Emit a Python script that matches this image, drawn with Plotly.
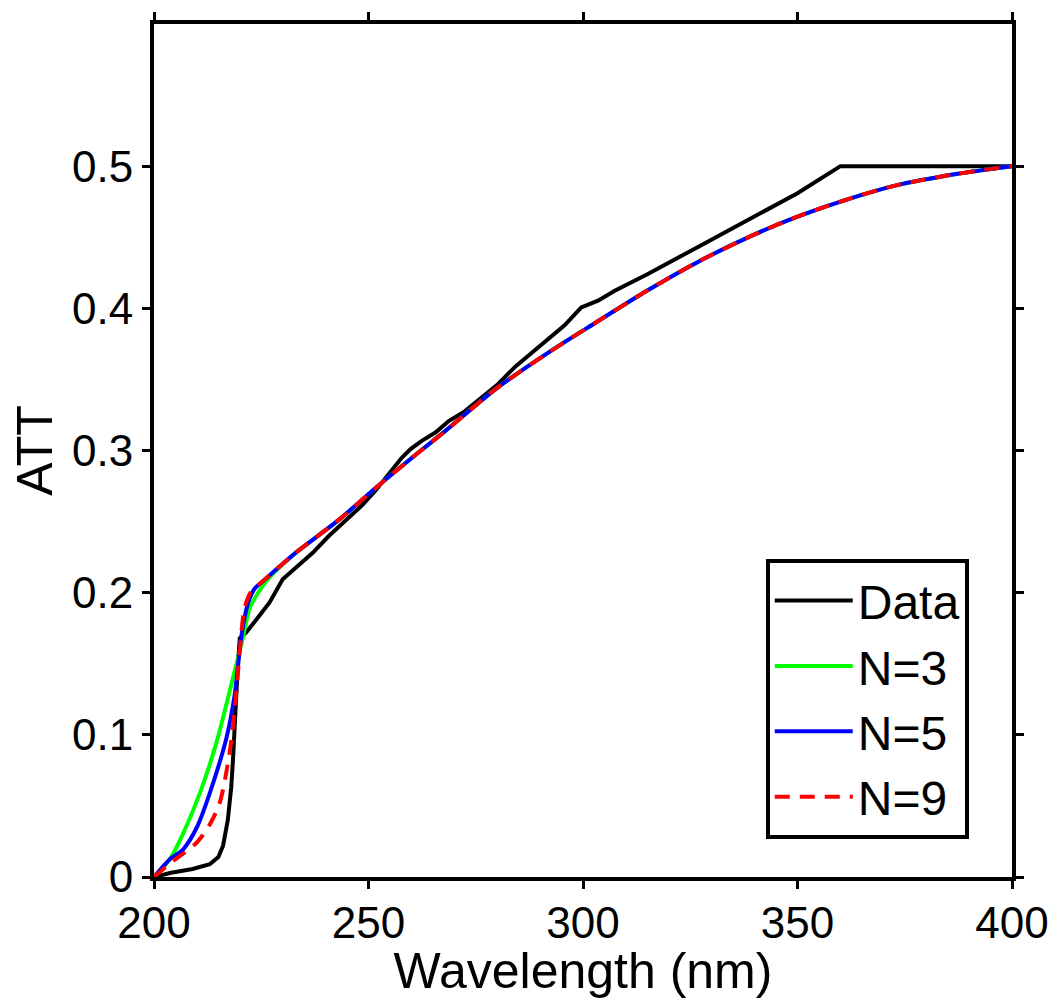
import plotly.graph_objects as go

# ---- data ----
data_x = [200, 204, 209, 213, 215, 216.1, 217.2, 218, 218.4, 219, 219.6, 220, 221.5, 224.6,
          226.9, 230, 233.9, 237, 240.8, 244.7, 248.6, 251.7, 255.5, 257.8, 259.8, 262.5,
          265.6, 268.7, 272.5, 280.3, 284.2, 288, 291.9, 295.7, 299.6, 303.5, 307.4, 315,
          326.7, 340, 350, 360, 400]
data_y = [0, 0.003, 0.0056, 0.009, 0.014, 0.022, 0.040, 0.063, 0.082, 0.121, 0.152, 0.168,
          0.172, 0.184, 0.193, 0.2095, 0.220, 0.228, 0.240, 0.251, 0.2617, 0.272, 0.286,
          0.295, 0.301, 0.307, 0.3126, 0.3207, 0.3277, 0.347, 0.359, 0.3685, 0.378, 0.388,
          0.4007, 0.4054, 0.4124, 0.424, 0.443, 0.465, 0.481, 0.5, 0.5]

# common smooth tail shared by the fits
tail_x = [233, 243, 252, 261, 268, 280, 292, 303, 315, 327, 340, 350, 362, 373, 387, 400]
tail_y = [0.228, 0.251, 0.2745, 0.297, 0.314, 0.344, 0.369, 0.390, 0.4125, 0.433, 0.452,
          0.4645, 0.477, 0.4865, 0.4945, 0.5]

n3_x = [200, 203.7, 207, 210.7, 214.5, 218.4, 220.7, 222.3, 224.5, 227, 230]
n3_y = [0, 0.0125, 0.032, 0.059, 0.094, 0.140, 0.168, 0.189, 0.201, 0.211, 0.220]

n5_x = [200, 203.7, 206.8, 210, 213, 216.9, 218.8, 220.3, 221.5, 222.3, 223.5, 225, 228]
n5_y = [0, 0.0125, 0.0195, 0.035, 0.059, 0.098, 0.128, 0.168, 0.188, 0.196, 0.203, 0.207, 0.215]

n9_x = [200, 204.5, 209.9, 213, 215.3, 217.6, 218.8, 220, 221.1, 222.5, 223.8, 228]
n9_y = [0, 0.0114, 0.024, 0.037, 0.052, 0.087, 0.117, 0.159, 0.189, 0.200, 0.204, 0.215]

x_ticks = [200, 250, 300, 350, 400]
y_ticks = [0, 0.1, 0.2, 0.3, 0.4, 0.5]
y_tick_text = ["0", "0.1", "0.2", "0.3", "0.4", "0.5"]

FONT = "Liberation Sans, Arial, Helvetica, sans-serif"
LW = 4

fig = go.Figure()
fig.add_trace(go.Scatter(x=data_x, y=data_y, mode="lines", name="Data",
                         line=dict(color="#000000", width=LW)))
fig.add_trace(go.Scatter(x=n3_x + tail_x, y=n3_y + tail_y, mode="lines", name="N=3",
                         line=dict(color="#00ff00", width=LW, shape="spline", smoothing=0.8)))
fig.add_trace(go.Scatter(x=n5_x + tail_x, y=n5_y + tail_y, mode="lines", name="N=5",
                         line=dict(color="#0000ff", width=LW, shape="spline", smoothing=0.8)))
fig.add_trace(go.Scatter(x=n9_x + tail_x, y=n9_y + tail_y, mode="lines", name="N=9",
                         line=dict(color="#ff0000", width=LW, dash="15px,10px",
                                   shape="spline", smoothing=0.8)))

axis_common = dict(showgrid=False, zeroline=False, showline=True, linecolor="black",
                   linewidth=4, mirror="ticks", ticks="outside", ticklen=8, tickwidth=3,
                   tickcolor="black", tickfont=dict(family=FONT, size=44, color="black"))

fig.update_layout(
    width=1061, height=999,
    margin=dict(l=154, r=45, t=14, b=122),
    paper_bgcolor="white", plot_bgcolor="white",
    font=dict(family=FONT, size=44, color="black"),
    xaxis=dict(range=[200, 400], tickvals=x_ticks, ticklabelstandoff=-4,
               title=dict(text="Wavelength (nm)", font=dict(family=FONT, size=50), standoff=0),
               **axis_common),
    yaxis=dict(range=[0, 0.6], tickvals=y_ticks, ticktext=y_tick_text,
               title=dict(text="ATT", font=dict(family=FONT, size=50), standoff=5),
               **axis_common),
    legend=dict(x=0.713, y=0.373, xanchor="left", yanchor="top",
                bordercolor="black", borderwidth=4, bgcolor="white",
                font=dict(family=FONT, size=48, color="black"),
                itemwidth=78, tracegroupgap=0),
    showlegend=True,
)

fig.write_html("out.html")
